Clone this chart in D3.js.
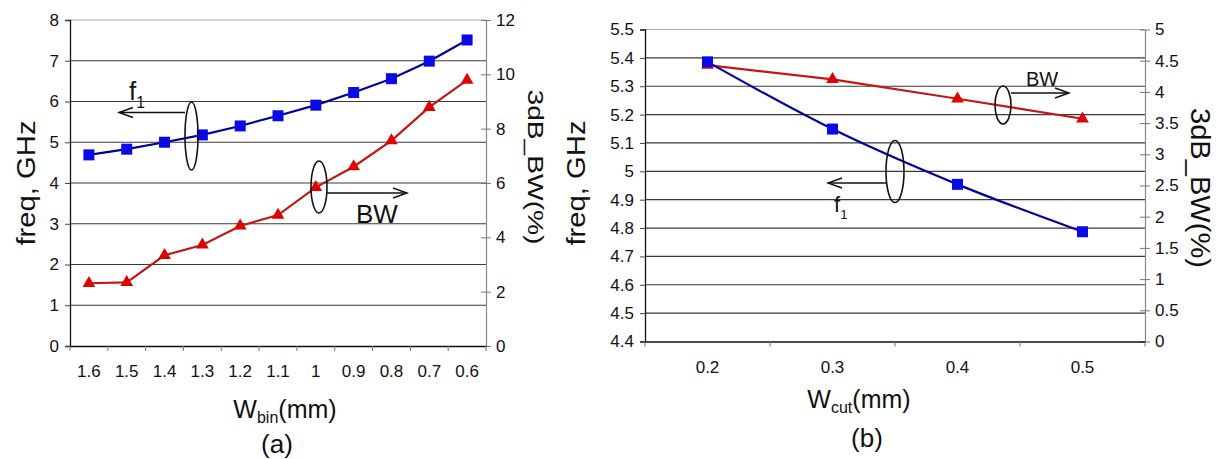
<!DOCTYPE html>
<html>
<head>
<meta charset="utf-8">
<script src="https://cdn.jsdelivr.net/npm/d3@7"></script>
<style>
  body { margin: 0; background: #fff; }
  svg text { font-family: "Liberation Sans", Arial, sans-serif; fill: #111; }
</style>
</head>
<body>
<svg id="chart" width="1223" height="459"></svg>
<script>
// ---- data ----
var catsA = ["1.6", "1.5", "1.4", "1.3", "1.2", "1.1", "1", "0.9", "0.8", "0.7", "0.6"];
var freqA = [4.69, 4.83, 5.0, 5.18, 5.40, 5.65, 5.91, 6.22, 6.56, 6.99, 7.51];
var bwA = [2.31, 2.34, 3.34, 3.72, 4.42, 4.82, 5.84, 6.60, 7.56, 8.79, 9.79];
var leftTicksA = [0, 1, 2, 3, 4, 5, 6, 7, 8];
var rightTicksA = [0, 2, 4, 6, 8, 10, 12];

var catsB = ["0.2", "0.3", "0.4", "0.5"];
var freqB = [5.386, 5.149, 4.954, 4.787];
var bwB = [4.43, 4.20, 3.89, 3.57];
var leftTicksB = [4.4, 4.5, 4.6, 4.7, 4.8, 4.9, 5.0, 5.1, 5.2, 5.3, 5.4, 5.5];
var rightTicksB = [0, 0.5, 1, 1.5, 2, 2.5, 3, 3.5, 4, 4.5, 5];

var svg = d3.select("#chart");
svg.append("rect").attr("width", 1223).attr("height", 459).attr("fill", "#fff");

function drawPanel(p) {
  var g = svg.append("g");

  var x = d3.scaleBand().domain(p.cats).range([p.left, p.right]);
  var yL = d3.scaleLinear().domain(d3.extent(p.leftTicks)).range([p.bottom, p.top]);
  var yR = d3.scaleLinear().domain(d3.extent(p.rightTicks)).range([p.bottom, p.top]);

  // gridlines from left axis
  g.selectAll(".grid")
    .data(p.leftTicks.slice(1))
    .enter().append("line")
      .attr("x1", p.left).attr("x2", p.right)
      .attr("y1", function(d) { return yL(d); })
      .attr("y2", function(d) { return yL(d); })
      .attr("stroke", function(d, i) { return i == p.leftTicks.length - 2 ? "#aaa" : "#3a3a3a"; })
      .attr("stroke-width", 1.2);

  // left axis
  var axL = g.append("g")
    .attr("transform", "translate(" + p.left + ",0)")
    .call(d3.axisLeft(yL).tickValues(p.leftTicks).tickSize(5).tickPadding(6)
      .tickFormat(function(d) { return p.leftFmt(d); }));
  axL.select(".domain").attr("stroke", "#111").attr("stroke-width", 1.3);
  axL.selectAll(".tick line").attr("stroke", "#444");
  axL.selectAll("text").style("font-size", "17px").attr("fill", "#111");

  // right axis, ticks crossing
  var axR = g.append("g")
    .attr("transform", "translate(" + p.right + ",0)")
    .call(d3.axisRight(yR).tickValues(p.rightTicks).tickSizeInner(5).tickSizeOuter(0).tickPadding(5)
      .tickFormat(function(d) { return p.rightFmt(d); }));
  axR.select(".domain").attr("stroke", "#888").attr("stroke-width", 1.2);
  axR.selectAll(".tick line").attr("stroke", "#777").attr("x1", -5);
  axR.selectAll("text").style("font-size", "17px").attr("fill", "#111");

  // bottom axis, ticks at band edges
  var axB = g.append("g")
    .attr("transform", "translate(0," + p.bottom + ")")
    .call(d3.axisBottom(x).tickSize(0).tickPadding(19));
  axB.select(".domain").attr("stroke", "#111").attr("stroke-width", 1.3);
  axB.selectAll("text").style("font-size", "17px").attr("fill", "#111");
  g.selectAll(".xtick")
    .data(p.cats.concat(["end"]))
    .enter().append("line")
      .attr("x1", function(d, i) { return p.left + i * x.bandwidth(); })
      .attr("x2", function(d, i) { return p.left + i * x.bandwidth(); })
      .attr("y1", p.bottom).attr("y2", p.bottom + 5)
      .attr("stroke", "#777");

  var cx = function(d, i) { return x(p.cats[i]) + x.bandwidth() / 2; };

  // BW series (red triangles, right axis)
  var lineR = d3.line().x(cx).y(function(d) { return yR(d); });
  g.append("path").datum(p.bw)
    .attr("d", lineR).attr("fill", "none")
    .attr("stroke", "#c01818").attr("stroke-width", 2.2);
  g.selectAll(".tri").data(p.bw).enter().append("path")
    .attr("d", d3.symbol(d3.symbolTriangle, 70))
    .attr("transform", function(d, i) { return "translate(" + cx(d, i) + "," + yR(d) + ")"; })
    .attr("fill", "#e00000");

  // f1 series (blue squares, left axis)
  var lineL = d3.line().x(cx).y(function(d) { return yL(d); }).curve(p.curve);
  g.append("path").datum(p.freq)
    .attr("d", lineL).attr("fill", "none")
    .attr("stroke", "#00009a").attr("stroke-width", 2.2);
  g.selectAll(".sq").data(p.freq).enter().append("rect")
    .attr("x", function(d, i) { return cx(d, i) - 5.5; })
    .attr("y", function(d) { return yL(d) - 5.5; })
    .attr("width", 11).attr("height", 11)
    .attr("fill", "#0a0ae6");

  // axis titles
  g.append("text")
    .attr("transform", "translate(" + p.lt.x + "," + p.lt.y + ") rotate(-90)")
    .attr("text-anchor", "middle").style("font-size", p.lt.fs + "px")
    .attr("textLength", p.lt.len).attr("lengthAdjust", "spacingAndGlyphs")
    .text("freq, GHz");
  g.append("text")
    .attr("transform", "translate(" + p.rt.x + "," + p.rt.y + ") rotate(90)")
    .attr("text-anchor", "middle").style("font-size", p.rt.fs + "px")
    .attr("textLength", p.rt.len).attr("lengthAdjust", "spacingAndGlyphs")
    .text("3dB_BW(%)");

  var xt = g.append("text")
    .attr("x", p.xTitleX).attr("y", p.xTitleY)
    .attr("text-anchor", "middle").style("font-size", "25px");
  xt.append("tspan").text("W");
  xt.append("tspan").attr("dy", 5).style("font-size", "16px").text(p.sub);
  xt.append("tspan").attr("dy", -5).text("(mm)");

  g.append("text")
    .attr("x", p.capX).attr("y", p.capY)
    .attr("text-anchor", "middle").style("font-size", "26px")
    .text(p.caption);

  // annotations: ellipses, arrows, labels
  p.notes.forEach(function(n) {
    g.append("ellipse")
      .attr("cx", n.ex).attr("cy", n.ey).attr("rx", n.rx).attr("ry", n.ry)
      .attr("fill", "none").attr("stroke", "#111").attr("stroke-width", 1.6);
    g.append("line")
      .attr("x1", n.ax1).attr("x2", n.ax2).attr("y1", n.ay).attr("y2", n.ay)
      .attr("stroke", "#111").attr("stroke-width", 1.4);
    var dir = n.ax2 > n.ax1 ? -1 : 1;
    g.append("path")
      .attr("d", "M" + (n.ax2 + dir * 14) + "," + (n.ay - 5) + "L" + n.ax2 + "," + n.ay + "L" + (n.ax2 + dir * 14) + "," + (n.ay + 5))
      .attr("fill", "none").attr("stroke", "#111").attr("stroke-width", 1.4);
    var t = g.append("text").attr("x", n.tx).attr("y", n.ty).style("font-size", n.fs + "px");
    if (n.label == "f1") {
      t.append("tspan").text("f");
      t.append("tspan").attr("dy", n.fs * 0.3).style("font-size", (n.fs * 0.6) + "px").text("1");
    } else {
      t.text(n.label);
    }
  });
}

drawPanel({
  cats: catsA, freq: freqA, bw: bwA,
  leftTicks: leftTicksA, rightTicks: rightTicksA,
  leftFmt: d3.format("d"), rightFmt: d3.format("d"),
  left: 70, right: 486, top: 20, bottom: 346,
  curve: d3.curveLinear,
  lt: {x: 35, y: 183, fs: 25, len: 125},
  rt: {x: 528, y: 167, fs: 22, len: 155},
  sub: "bin", xTitleX: 285, xTitleY: 418,
  caption: "(a)", capX: 277, capY: 453,
  notes: [
    {label: "f1", ex: 191.5, ey: 136, rx: 6.5, ry: 34, ax1: 185, ax2: 119, ay: 112.5, tx: 129, ty: 100, fs: 26},
    {label: "BW", ex: 319, ey: 187, rx: 8, ry: 26, ax1: 327, ax2: 407, ay: 193, tx: 356, ty: 223, fs: 26}
  ]
});

drawPanel({
  cats: catsB, freq: freqB, bw: bwB,
  leftTicks: leftTicksB, rightTicks: rightTicksB,
  leftFmt: function(d) { return d3.format(".1f")(d).replace(/\.0$/, ""); },
  rightFmt: function(d) { return String(d); },
  left: 645, right: 1145, top: 29.5, bottom: 341.5,
  curve: d3.curveMonotoneX,
  lt: {x: 585, y: 183, fs: 26, len: 125},
  rt: {x: 1191, y: 188, fs: 28, len: 160},
  sub: "cut", xTitleX: 859, xTitleY: 408,
  caption: "(b)", capX: 867, capY: 447,
  notes: [
    {label: "f1", ex: 895, ey: 171.5, rx: 9, ry: 31, ax1: 886, ax2: 828, ay: 183, tx: 834, ty: 212, fs: 22},
    {label: "BW", ex: 1003, ey: 105, rx: 8, ry: 19, ax1: 1011, ax2: 1069, ay: 93, tx: 1026, ty: 86, fs: 20}
  ]
});
</script>
</body>
</html>
